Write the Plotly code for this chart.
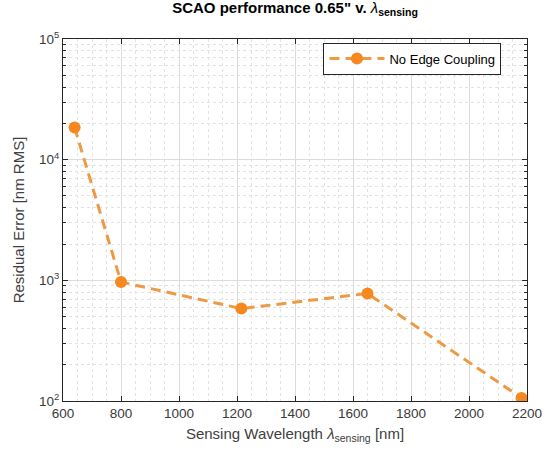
import plotly.graph_objects as go

wavelength_nm = [640, 800, 1215, 1650, 2181]
residual_nm_rms = [18500, 968, 583, 778, 106]
series_name = "No Edge Coupling"

x_tick_vals = [600, 800, 1000, 1200, 1400, 1600, 1800, 2000, 2200]
y_tick_vals = [1e2, 1e3, 1e4, 1e5]
y_tick_text = ["10<sup>2</sup>", "10<sup>3</sup>", "10<sup>4</sup>", "10<sup>5</sup>"]
y_minor_vals = [m * 10 ** e for e in (2, 3, 4) for m in range(2, 10)]

orange = "#F5891F"
axis_col = "#262626"
font_family = "Liberation Sans, Arial, sans-serif"

L, R, T, B = 63, 27, 39, 52
W, H = 554, 453

fig = go.Figure()
fig.add_trace(go.Scatter(
    x=wavelength_nm, y=residual_nm_rms, mode="lines+markers", name=series_name,
    line=dict(color="#EE9A45", width=3, dash="10px,6px"),
    marker=dict(color=orange, size=12, line=dict(width=0)),
))

common = dict(
    showline=True, linecolor=axis_col, linewidth=1, mirror="ticks",
    ticks="inside", ticklen=5, tickcolor=axis_col,
    showgrid=True, gridcolor="#dcdcdc", gridwidth=1,
    zeroline=False, tickfont=dict(size=13.5, color="#3a3a3a", family=font_family),
)

fig.update_xaxes(
    range=[600, 2200], tickvals=x_tick_vals, **common,
    title=dict(text="Sensing Wavelength <i>λ</i><sub>sensing</sub> [nm]",
               font=dict(size=15, color="#404040", family=font_family), standoff=8),
    minor=dict(dtick=50, showgrid=True, griddash="dot", gridcolor="#e2e2e2", ticks=""),
)
fig.update_yaxes(
    type="log", range=[2, 5], tickvals=y_tick_vals, ticktext=y_tick_text, **common,
    title=dict(text="Residual Error [nm RMS]",
               font=dict(size=15, color="#404040", family=font_family), standoff=10),
    minor=dict(tickvals=y_minor_vals, showgrid=True, griddash="dot", gridcolor="#e2e2e2",
               ticks="inside", ticklen=3, tickcolor=axis_col),
)

fig.update_layout(
    width=W, height=H,
    margin=dict(l=L, r=R, t=T, b=B),
    paper_bgcolor="white", plot_bgcolor="white",
    title=dict(text="<b>SCAO performance 0.65\" v. </b><i>λ</i><sub><b>sensing</b></sub>",
               x=(L + W - R) / 2 / W, xanchor="center", y=0.995, yanchor="top",
               font=dict(size=15, color="black", family=font_family)),
    legend=dict(x=0.945, xanchor="right", y=0.99, yanchor="top",
                bgcolor="white", bordercolor=axis_col, borderwidth=1,
                font=dict(size=13, color="black", family=font_family),
                itemwidth=55, tracegroupgap=0),
    showlegend=True,
)

fig.write_html("out.html", config={"displayModeBar": False},
               post_script="document.body.style.margin='0px';")
